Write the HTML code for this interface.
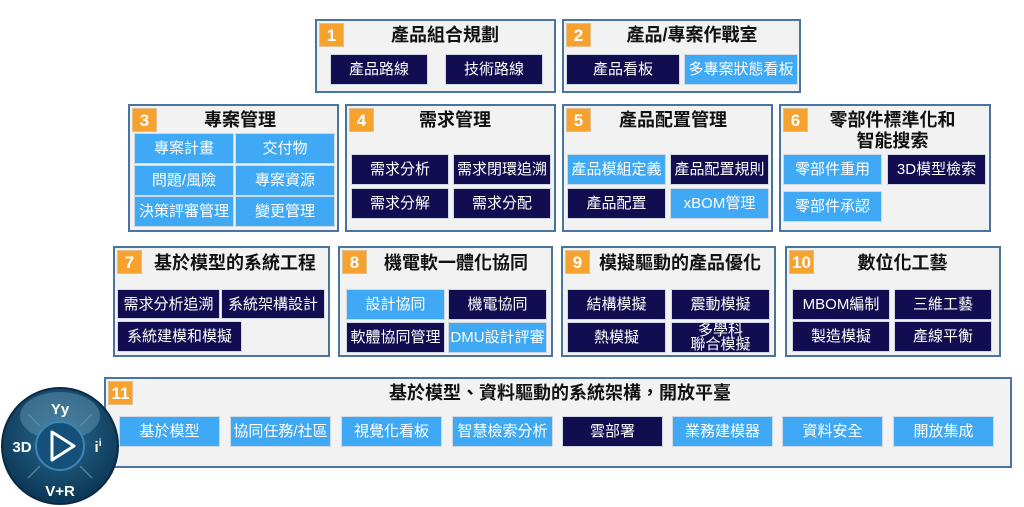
<!DOCTYPE html>
<html><head><meta charset="utf-8"><style>
body{margin:0;width:1024px;height:507px;background:#fff;position:relative;overflow:hidden;font-family:"Liberation Sans","Noto Sans CJK TC",sans-serif}
.box{position:absolute;background:#f2f2f2;border:2px solid #4a74a0;box-sizing:border-box}
.n{position:absolute;background:#f7a12e;color:#fff;font-weight:bold;font-size:17px;width:25px;height:24px;line-height:24px;text-align:center;border:1px solid #e0c090;box-sizing:border-box}
.t{position:absolute;font-weight:bold;font-size:18px;color:#111;text-align:center;white-space:nowrap;line-height:21px}
.b{position:absolute;color:#fff;font-size:15px;text-align:center;white-space:nowrap;display:flex;align-items:center;justify-content:center;border:1px solid #cfd8e3;box-sizing:border-box;line-height:15px;overflow:hidden}
.d{background:#120c50}.l{background:#3fa9f5}
</style></head><body>

<div class="box" style="left:315px;top:19px;width:241px;height:74px"></div>
<div class="n" style="left:319px;top:23px">1</div>
<div class="t" style="left:345px;top:25px;width:200px">產品組合規劃</div>
<div class="b d" style="left:330px;top:54px;width:98px;height:31px">產品路線</div>
<div class="b d" style="left:445px;top:54px;width:98px;height:31px">技術路線</div>

<div class="box" style="left:562px;top:19px;width:239px;height:74px"></div>
<div class="n" style="left:566px;top:23px">2</div>
<div class="t" style="left:592px;top:25px;width:200px">產品/專案作戰室</div>
<div class="b d" style="left:566px;top:54px;width:114px;height:31px">產品看板</div>
<div class="b l" style="left:684px;top:54px;width:114px;height:31px">多專案狀態看板</div>

<div class="box" style="left:128px;top:104px;width:211px;height:128px"></div>
<div class="n" style="left:132px;top:108px">3</div>
<div class="t" style="left:150px;top:110px;width:180px">專案管理</div>
<div class="b l" style="left:134px;top:133px;width:100px;height:31px">專案計畫</div>
<div class="b l" style="left:235px;top:133px;width:100px;height:31px">交付物</div>
<div class="b l" style="left:134px;top:165px;width:100px;height:31px">問題/風險</div>
<div class="b l" style="left:235px;top:165px;width:100px;height:31px">專案資源</div>
<div class="b l" style="left:134px;top:196px;width:100px;height:31px">決策評審管理</div>
<div class="b l" style="left:235px;top:196px;width:100px;height:31px">變更管理</div>

<div class="box" style="left:345px;top:104px;width:211px;height:128px"></div>
<div class="n" style="left:349px;top:108px">4</div>
<div class="t" style="left:365px;top:110px;width:180px">需求管理</div>
<div class="b d" style="left:351px;top:154px;width:98px;height:31px">需求分析</div>
<div class="b d" style="left:453px;top:154px;width:98px;height:31px">需求閉環追溯</div>
<div class="b d" style="left:351px;top:188px;width:98px;height:31px">需求分解</div>
<div class="b d" style="left:453px;top:188px;width:98px;height:31px">需求分配</div>

<div class="box" style="left:562px;top:104px;width:211px;height:128px"></div>
<div class="n" style="left:566px;top:108px">5</div>
<div class="t" style="left:578px;top:110px;width:190px">產品配置管理</div>
<div class="b l" style="left:567px;top:154px;width:99px;height:31px">產品模組定義</div>
<div class="b d" style="left:670px;top:154px;width:99px;height:31px">產品配置規則</div>
<div class="b d" style="left:567px;top:188px;width:99px;height:31px">產品配置</div>
<div class="b l" style="left:670px;top:188px;width:99px;height:31px">xBOM管理</div>

<div class="box" style="left:779px;top:104px;width:212px;height:128px"></div>
<div class="n" style="left:783px;top:108px">6</div>
<div class="t" style="left:805px;top:110px;width:175px">零部件標準化和<br>智能搜索</div>
<div class="b l" style="left:783px;top:154px;width:99px;height:31px">零部件重用</div>
<div class="b d" style="left:887px;top:154px;width:99px;height:31px">3D模型檢索</div>
<div class="b l" style="left:783px;top:191px;width:99px;height:31px">零部件承認</div>

<div class="box" style="left:113px;top:246px;width:217px;height:111px"></div>
<div class="n" style="left:117px;top:250px">7</div>
<div class="t" style="left:145px;top:253px;width:180px">基於模型的系統工程</div>
<div class="b d" style="left:117px;top:289px;width:103px;height:30px">需求分析追溯</div>
<div class="b d" style="left:221px;top:289px;width:104px;height:30px">系統架構設計</div>
<div class="b d" style="left:117px;top:321px;width:125px;height:31px">系統建模和模擬</div>

<div class="box" style="left:338px;top:246px;width:215px;height:111px"></div>
<div class="n" style="left:342px;top:250px">8</div>
<div class="t" style="left:366px;top:253px;width:180px">機電軟一體化協同</div>
<div class="b l" style="left:346px;top:289px;width:99px;height:31px">設計協同</div>
<div class="b d" style="left:448px;top:289px;width:99px;height:31px">機電協同</div>
<div class="b d" style="left:346px;top:322px;width:99px;height:31px">軟體協同管理</div>
<div class="b l" style="left:448px;top:322px;width:99px;height:31px">DMU設計評審</div>

<div class="box" style="left:561px;top:246px;width:215px;height:111px"></div>
<div class="n" style="left:565px;top:250px">9</div>
<div class="t" style="left:590px;top:253px;width:180px">模擬驅動的產品優化</div>
<div class="b d" style="left:567px;top:289px;width:99px;height:31px">結構模擬</div>
<div class="b d" style="left:671px;top:289px;width:99px;height:31px">震動模擬</div>
<div class="b d" style="left:567px;top:322px;width:99px;height:31px">熱模擬</div>
<div class="b d" style="left:671px;top:322px;width:99px;height:31px;line-height:14px">多學科<br>聯合模擬</div>

<div class="box" style="left:785px;top:246px;width:216px;height:111px"></div>
<div class="n" style="left:789px;top:250px">10</div>
<div class="t" style="left:815px;top:253px;width:175px">數位化工藝</div>
<div class="b d" style="left:792px;top:289px;width:98px;height:31px">MBOM編制</div>
<div class="b d" style="left:894px;top:289px;width:98px;height:31px">三維工藝</div>
<div class="b d" style="left:792px;top:321px;width:98px;height:31px">製造模擬</div>
<div class="b d" style="left:894px;top:321px;width:98px;height:31px">產線平衡</div>

<div class="box" style="left:104px;top:377px;width:908px;height:91px"></div>
<div class="n" style="left:108px;top:381px">11</div>
<div class="t" style="left:180px;top:383px;width:760px">基於模型、資料驅動的系統架構，開放平臺</div>
<div class="b l" style="left:119px;top:416px;width:101px;height:31px">基於模型</div>
<div class="b l" style="left:230px;top:416px;width:101px;height:31px">協同任務/社區</div>
<div class="b l" style="left:341px;top:416px;width:101px;height:31px">視覺化看板</div>
<div class="b l" style="left:452px;top:416px;width:101px;height:31px">智慧檢索分析</div>
<div class="b d" style="left:562px;top:416px;width:101px;height:31px">雲部署</div>
<div class="b l" style="left:672px;top:416px;width:101px;height:31px">業務建模器</div>
<div class="b l" style="left:782px;top:416px;width:101px;height:31px">資料安全</div>
<div class="b l" style="left:893px;top:416px;width:101px;height:31px">開放集成</div>

<svg style="position:absolute;left:0;top:386px" width="122" height="121" viewBox="0 0 122 121">
<defs><radialGradient id="g" cx="50%" cy="40%" r="60%"><stop offset="0" stop-color="#2a6c92"/><stop offset="1" stop-color="#0b3554"/></radialGradient></defs>
<circle cx="60" cy="60" r="58" fill="url(#g)" stroke="#0a2a44" stroke-width="2"/>
<ellipse cx="60" cy="30" rx="40" ry="24" fill="#6a9cb8" opacity="0.45"/>
<g stroke="#5d90b0" stroke-width="1.2">
<line x1="28" y1="28" x2="40" y2="40"/><line x1="92" y1="28" x2="80" y2="40"/>
<line x1="28" y1="92" x2="40" y2="80"/><line x1="92" y1="92" x2="80" y2="80"/></g>
<circle cx="60" cy="60" r="24" fill="#14507a" stroke="#3d86b4" stroke-width="2"/>
<path d="M52 46 L74 60 L52 74 Z" fill="none" stroke="#fff" stroke-width="3" stroke-linejoin="round"/>
<text x="60" y="28" fill="#fff" font-size="15" font-weight="bold" text-anchor="middle" font-family="Liberation Sans">Yy</text>
<text x="22" y="66" fill="#fff" font-size="15" font-weight="bold" text-anchor="middle" font-family="Liberation Sans">3D</text>
<text x="98" y="66" fill="#fff" font-size="15" font-weight="bold" text-anchor="middle" font-family="Liberation Sans">i<tspan font-size="10" dy="-6">i</tspan></text>
<text x="60" y="110" fill="#fff" font-size="15" font-weight="bold" text-anchor="middle" font-family="Liberation Sans">V+R</text>
</svg>
</body></html>
